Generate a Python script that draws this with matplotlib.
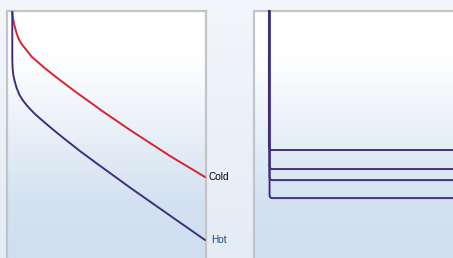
import numpy as np
import matplotlib
matplotlib.use("Agg")
import matplotlib.pyplot as plt
from matplotlib.colors import LinearSegmentedColormap

# ---- data (time 0..100, temperature 0..100) ----
cold_x = [2.66, 2.9, 3.67, 4.6, 5.68, 7.2, 9.05, 12.4, 19.1, 25.8, 34.2, 48.4, 61.8, 81.9, 99.5]
cold_y = [99.7, 97.6, 94.6, 91.9, 89.4, 87.3, 85.5, 82.2, 77.7, 73.6, 68.7, 60.8, 53.7, 43.6, 35.4]
hot_x = [2.66, 2.66, 2.81, 3.17, 3.82, 4.87, 6.28, 8.19, 10.05, 11.56, 14.07, 17.44, 22.46,
         28.29, 36.68, 45.08, 61.81, 81.91, 99.5]
hot_y = [99.7, 80.9, 77.8, 75.1, 72.8, 70.0, 67.3, 65.0, 63.2, 61.9, 59.9, 57.6, 54.3,
         50.6, 45.5, 40.7, 31.3, 20.4, 10.9]
labels = ["Cold", "Hot"]

step_levels = [45.9, 38.5, 34.2, 27.2]
step_x0 = [6.9, 7.2, 7.2, 7.2]

line_red = "#d9232e"
line_purple = "#3f2f7c"
border = "#c2c4c8"

W, H = 453, 258
fig = plt.figure(figsize=(W / 100, H / 100), dpi=100)

# figure background gradient
bg = fig.add_axes([0, 0, 1, 1], zorder=-10)
bg_cmap = LinearSegmentedColormap.from_list("bg", ["#f3f6fb", "#e4ecf6"])
bg.imshow(np.linspace(0, 1, 256).reshape(-1, 1), aspect="auto", cmap=bg_cmap,
          extent=[0, 1, 0, 1], origin="upper")
bg.set_axis_off()

panel_cmap = LinearSegmentedColormap.from_list(
    "panel", [(0, "#ffffff"), (0.18, "#ffffff"), (0.75, "#d3e1f1"), (1, "#cfdff0")])


def px_axes(x0, x1, y0, y1):
    return fig.add_axes([x0 / W, 1 - y1 / H, (x1 - x0) / W, (y1 - y0) / H])


def style(ax):
    ax.imshow(np.linspace(0, 1, 256).reshape(-1, 1), aspect="auto", cmap=panel_cmap,
              extent=[0, 100, 0, 100], origin="upper", zorder=0)
    ax.set_xlim(0, 100)
    ax.set_ylim(0, 100)
    ax.set_xticks([])
    ax.set_yticks([])
    for s in ["left", "top", "right"]:
        ax.spines[s].set_color(border)
        ax.spines[s].set_linewidth(1.6)
    ax.spines["bottom"].set_visible(False)


ax1 = px_axes(7, 206, 11, 268)
style(ax1)
ax1.plot(cold_x, cold_y, color=line_red, lw=1.4, solid_capstyle="round",
         solid_joinstyle="round", zorder=3)
ax1.plot(hot_x, hot_y, color=line_purple, lw=1.4, solid_capstyle="round",
         solid_joinstyle="round", zorder=3)
ax1.text(101.5, cold_y[-1], labels[0], color="black", fontsize=7.2, va="center",
         ha="left", clip_on=False, family="Liberation Sans")
ax1.text(102.5, hot_y[-1], labels[1], color="#1d4585", fontsize=7.2, va="center",
         ha="left", clip_on=False, family="Liberation Sans")

ax2 = px_axes(254, 470, 11, 268)
style(ax2)
for x0, lv in zip(step_x0, step_levels):
    xs = [x0, x0, x0 + 0.3, x0 + 1.0, 110]
    ys = [100, lv + 1.0, lv + 0.3, lv, lv]
    ax2.plot(xs, ys, color=line_purple, lw=1.4, zorder=3, clip_on=False)
ax2.set_xlim(0, 100)

fig.savefig("out.png", dpi=100)
